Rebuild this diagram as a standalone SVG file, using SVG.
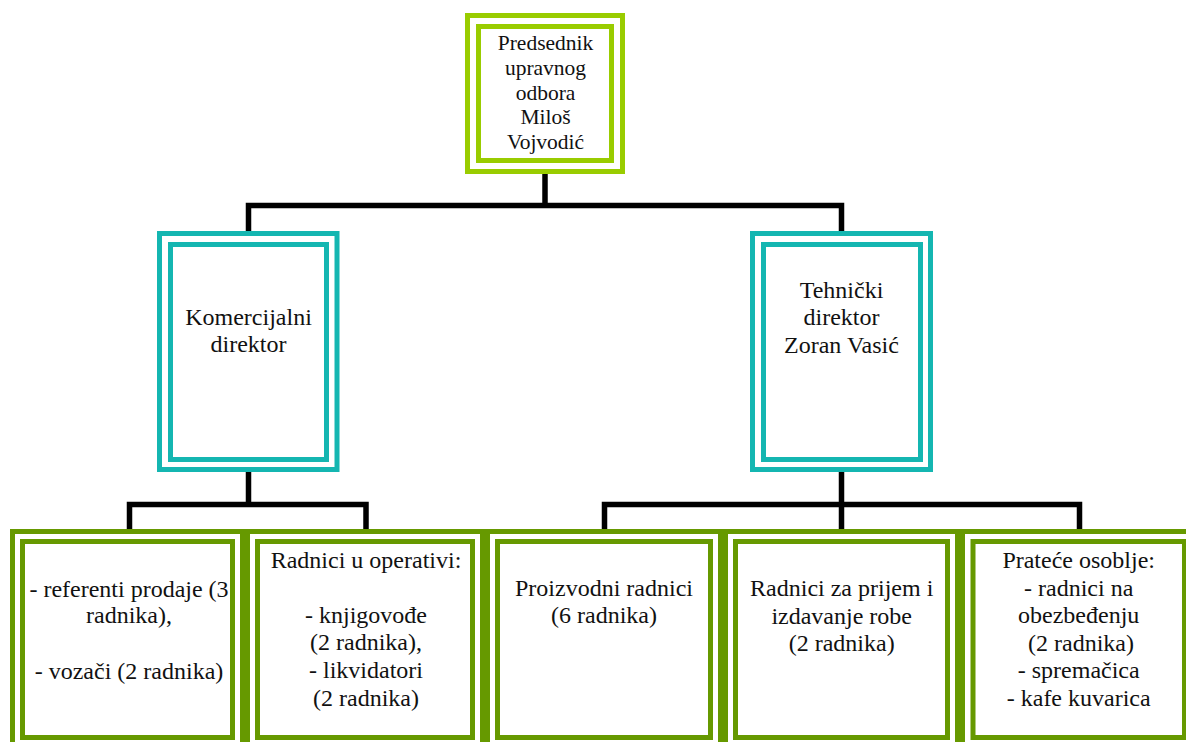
<svg xmlns="http://www.w3.org/2000/svg" width="1186" height="742" viewBox="0 0 1186 742" font-family="Liberation Serif, DejaVu Serif, serif">
<style>
.bg{fill:#ffffff}
.lime{fill:#ffffff;stroke:#99CC00;stroke-width:5}
.teal{fill:#ffffff;stroke:#14B6B1;stroke-width:5}
.olive{fill:#ffffff;stroke:#669900;stroke-width:5}
.conn{fill:none;stroke:#000000;stroke-width:5.5;stroke-linejoin:miter;stroke-linecap:butt}
text{fill:#111111;text-anchor:middle}
.t21{font-size:21.5px}
.t24{font-size:24px}
</style>
<rect class="bg" x="0" y="0" width="1186" height="742"/>
<g id="connectors">
<path class="conn" d="M545 174 V205.5"/>
<path class="conn" d="M248.5 231 V205.5 H841.5 V231"/>
<path class="conn" d="M248.5 472 V504.5"/>
<path class="conn" d="M129.5 529 V504.5 H366 V529"/>
<path class="conn" d="M841.5 472 V529"/>
<path class="conn" d="M604.5 529 V504.5 H1079.5 V529"/>
</g>
<g id="predsednik">
<rect class="lime" x="467.5" y="15.5" width="155" height="156"/>
<rect class="lime" x="478.5" y="26.5" width="133" height="134"/>
<text class="t21" x="545.5" y="50">Predsednik</text>
<text class="t21" x="545.5" y="74.8">upravnog</text>
<text class="t21" x="545.5" y="99.6">odbora</text>
<text class="t21" x="545.5" y="124.4">Miloš</text>
<text class="t21" x="545.5" y="149.2">Vojvodić</text>
</g>
<g id="komercijalni">
<rect class="teal" x="159.5" y="233.5" width="177.5" height="236"/>
<rect class="teal" x="170.5" y="244.5" width="156" height="215"/>
<text class="t24" x="248.5" y="324.5">Komercijalni</text>
<text class="t24" x="248.5" y="352.3">direktor</text>
</g>
<g id="tehnicki">
<rect class="teal" x="752.5" y="233.5" width="178" height="236"/>
<rect class="teal" x="763.5" y="244.5" width="157" height="215"/>
<text class="t24" x="841.5" y="297.8">Tehnički</text>
<text class="t24" x="841.5" y="325.2">direktor</text>
<text class="t24" x="841.5" y="352.6">Zoran Vasić</text>
</g>
<g id="prodaja">
<rect class="olive" x="12.5" y="531.5" width="230" height="222"/>
<rect class="olive" x="22.5" y="541.5" width="210" height="196"/>
<text class="t24" x="129" y="596.7">- referenti prodaje (3</text>
<text class="t24" x="129" y="623.3">radnika),</text>
<text class="t24" x="129" y="679.3">- vozači (2 radnika)</text>
</g>
<g id="operativa">
<rect class="olive" x="247.5" y="531.5" width="235" height="222"/>
<rect class="olive" x="257.5" y="541.5" width="215" height="196"/>
<text class="t24" x="366" y="567.7">Radnici u operativi:</text>
<text class="t24" x="366" y="622.8">- knjigovođe</text>
<text class="t24" x="366" y="650.4">(2 radnika),</text>
<text class="t24" x="366" y="678">- likvidatori</text>
<text class="t24" x="366" y="705.6">(2 radnika)</text>
</g>
<g id="proizvodni">
<rect class="olive" x="487.5" y="531.5" width="233" height="222"/>
<rect class="olive" x="497.5" y="541.5" width="213" height="196"/>
<text class="t24" x="604" y="596">Proizvodni radnici</text>
<text class="t24" x="604" y="623.3">(6 radnika)</text>
</g>
<g id="prijem">
<rect class="olive" x="725.5" y="531.5" width="232" height="222"/>
<rect class="olive" x="735.5" y="541.5" width="212" height="196"/>
<text class="t24" x="841.7" y="596">Radnici za prijem i</text>
<text class="t24" x="841.7" y="623.5">izdavanje robe</text>
<text class="t24" x="841.7" y="651">(2 radnika)</text>
</g>
<g id="pratece">
<rect class="olive" x="962.5" y="531.5" width="232" height="222"/>
<rect class="olive" x="973" y="541.5" width="211.5" height="196"/>
<text class="t24" x="1078.7" y="568.3">Prateće osoblje:</text>
<text class="t24" x="1078.7" y="595.8">- radnici na</text>
<text class="t24" x="1078.7" y="623.3">obezbeđenju</text>
<text class="t24" x="1081" y="650.8">(2 radnika)</text>
<text class="t24" x="1078.7" y="678.3">- spremačica</text>
<text class="t24" x="1078.7" y="705.8">- kafe kuvarica</text>
</g>
</svg>
